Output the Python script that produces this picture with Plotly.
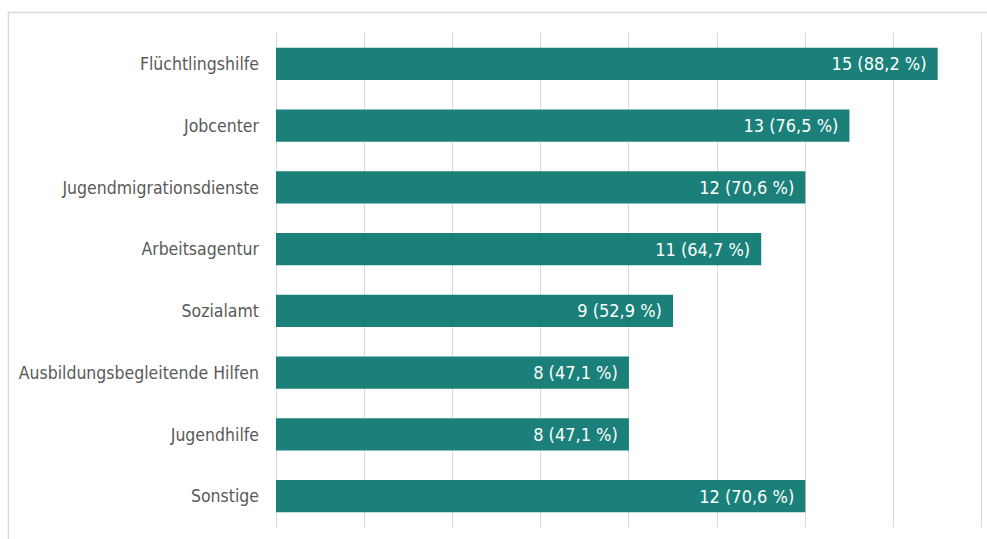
import plotly.graph_objects as go

categories = ["Flüchtlingshilfe", "Jobcenter", "Jugendmigrationsdienste", "Arbeitsagentur",
              "Sozialamt", "Ausbildungsbegleitende Hilfen", "Jugendhilfe", "Sonstige"]
counts = [15, 13, 12, 11, 9, 8, 8, 12]
percents = ["88,2", "76,5", "70,6", "64,7", "52,9", "47,1", "47,1", "70,6"]
labels = [f"{c} ({p} %)\u2002" for c, p in zip(counts, percents)]

W, H = 987, 539
L, R, T, B = 276, 3.2, 33, 12

fig = go.Figure(go.Bar(
    y=categories, x=counts, orientation="h",
    marker=dict(color="#1a8079", line=dict(width=0)),
    width=0.52,
    text=labels, textposition="inside", insidetextanchor="end",
    textfont=dict(color="white", size=18, family="DejaVu Sans Condensed, DejaVu Sans"),
    cliponaxis=False,
))

pw = W - L - R
ph = H - T - B
fig.add_shape(type="rect", xref="paper", yref="paper",
              x0=(8.5 - L) / pw, x1=(W + 20 - L) / pw,
              y0=-(B + 20) / ph, y1=1 + (T - 12.5) / ph,
              line=dict(color="#d9d9d9", width=1.5), fillcolor="rgba(0,0,0,0)", layer="below")

fig.update_layout(
    width=W, height=H,
    margin=dict(l=L, r=R, t=T, b=B),
    paper_bgcolor="white", plot_bgcolor="white",
    showlegend=False,
    xaxis=dict(range=[0, 16.05], dtick=2, showticklabels=False, showgrid=True,
               gridcolor="#d9d9d9", gridwidth=1, zeroline=True, zerolinecolor="#d9d9d9",
               zerolinewidth=1, fixedrange=True),
    yaxis=dict(autorange="reversed", showgrid=False, ticks="", ticklabelstandoff=16,
               tickfont=dict(color="#595959", size=17.5, family="DejaVu Sans Condensed, DejaVu Sans")),
)

fig.write_html("out.html", config={"displayModeBar": False},
               post_script="document.body.style.margin='0';document.body.style.overflow='hidden';")
